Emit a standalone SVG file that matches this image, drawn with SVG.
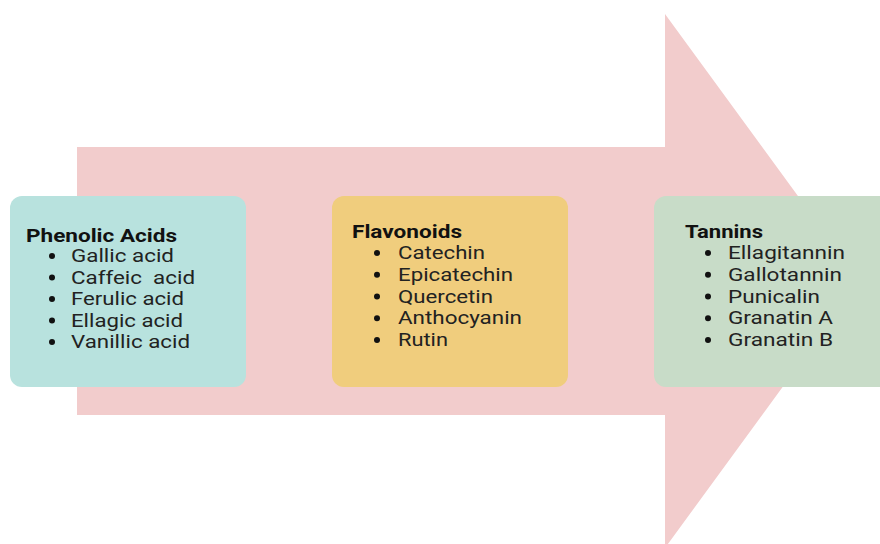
<svg xmlns="http://www.w3.org/2000/svg" width="880" height="544" viewBox="0 0 880 544">
<style>
.t{font-family:Roboto,"Liberation Sans",sans-serif;font-size:18px;font-weight:bold;fill:#111}
.i{font-family:Roboto,"Liberation Sans",sans-serif;font-size:18px;fill:#222}
.b{fill:#111}
</style>
<rect width="880" height="544" fill="#fff"/>
<g id="connectors">
<path id="arrow" d="M77,147 H665 V14 L860,281 L665,548 V415 H77 Z" fill="#f2cccc"/>
</g>
<g id="phenolic">
<rect x="10" y="196" width="236" height="191" rx="12" fill="#b8e2de"/>
<text class="t" x="26" y="242" textLength="151" lengthAdjust="spacingAndGlyphs">Phenolic Acids</text>
<circle class="b" cx="52" cy="256" r="3"/><text class="i" x="71" y="262" textLength="103" lengthAdjust="spacingAndGlyphs">Gallic acid</text>
<circle class="b" cx="52" cy="277.5" r="3"/><text class="i" x="71" y="283.5" textLength="124" lengthAdjust="spacingAndGlyphs" xml:space="preserve">Caffeic  acid</text>
<circle class="b" cx="52" cy="299" r="3"/><text class="i" x="71" y="305" textLength="113" lengthAdjust="spacingAndGlyphs">Ferulic acid</text>
<circle class="b" cx="52" cy="320.5" r="3"/><text class="i" x="71" y="326.5" textLength="112" lengthAdjust="spacingAndGlyphs">Ellagic acid</text>
<circle class="b" cx="52" cy="342" r="3"/><text class="i" x="71" y="348" textLength="119" lengthAdjust="spacingAndGlyphs">Vanillic acid</text>
</g>
<g id="flavonoids">
<rect x="332" y="196" width="236" height="191" rx="12" fill="#f0cd7d"/>
<text class="t" x="352" y="238" textLength="110" lengthAdjust="spacingAndGlyphs">Flavonoids</text>
<circle class="b" cx="377" cy="253" r="3"/><text class="i" x="398" y="259" textLength="87" lengthAdjust="spacingAndGlyphs">Catechin</text>
<circle class="b" cx="377" cy="274.8" r="3"/><text class="i" x="398" y="280.8" textLength="115" lengthAdjust="spacingAndGlyphs">Epicatechin</text>
<circle class="b" cx="377" cy="296.5" r="3"/><text class="i" x="398" y="302.5" textLength="95" lengthAdjust="spacingAndGlyphs">Quercetin</text>
<circle class="b" cx="377" cy="318.3" r="3"/><text class="i" x="398" y="324.3" textLength="124" lengthAdjust="spacingAndGlyphs">Anthocyanin</text>
<circle class="b" cx="377" cy="340" r="3"/><text class="i" x="398" y="346" textLength="50" lengthAdjust="spacingAndGlyphs">Rutin</text>
</g>
<g id="tannins">
<rect x="654" y="196" width="240" height="191" rx="12" fill="#c8dcc8"/>
<text class="t" x="685" y="238" textLength="78" lengthAdjust="spacingAndGlyphs">Tannins</text>
<circle class="b" cx="708" cy="253" r="3"/><text class="i" x="728" y="259" textLength="117" lengthAdjust="spacingAndGlyphs">Ellagitannin</text>
<circle class="b" cx="708" cy="274.8" r="3"/><text class="i" x="728" y="280.8" textLength="114" lengthAdjust="spacingAndGlyphs">Gallotannin</text>
<circle class="b" cx="708" cy="296.5" r="3"/><text class="i" x="728" y="302.5" textLength="92" lengthAdjust="spacingAndGlyphs">Punicalin</text>
<circle class="b" cx="708" cy="318.3" r="3"/><text class="i" x="728" y="324.3" textLength="105" lengthAdjust="spacingAndGlyphs">Granatin A</text>
<circle class="b" cx="708" cy="340" r="3"/><text class="i" x="728" y="346" textLength="105" lengthAdjust="spacingAndGlyphs">Granatin B</text>
</g>
</svg>
